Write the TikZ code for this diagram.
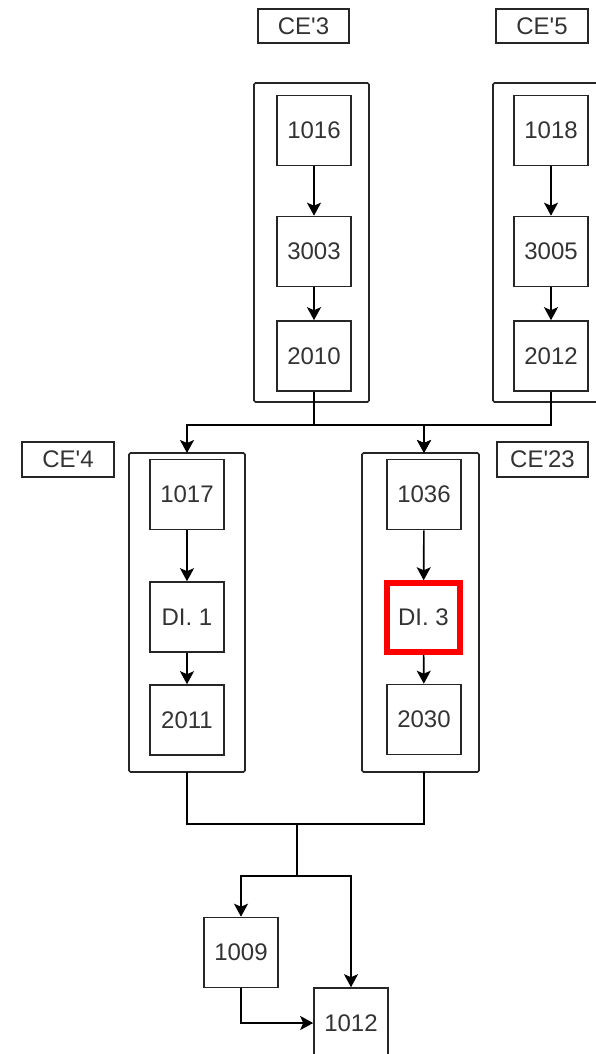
\documentclass[tikz,border=0pt]{standalone}
\usepackage{fontspec}
\setmainfont{Liberation Sans}
\usetikzlibrary{arrows.meta}
\definecolor{txt}{HTML}{333333}
\definecolor{hl}{HTML}{FF0000}
\tikzset{
  box/.style={draw=black!85, line width=1.6pt, minimum width=74pt, minimum height=70pt, inner sep=0pt, text=txt, font=\fontsize{24}{28}\selectfont},
  grp/.style={draw=black!85, line width=1.6pt, rounded corners=1.5pt},
  lbl/.style={draw=black!85, line width=1.6pt, minimum width=91pt, minimum height=34pt, inner sep=0pt, text=txt, font=\fontsize{24}{28}\selectfont},
  redbox/.style={box, draw=hl, line width=5.5pt, minimum width=73pt, minimum height=69pt},
  arr/.style={line width=1.6pt, draw=black, -{Stealth[length=13pt,width=14pt,inset=3pt]}},
  ln/.style={line width=1.6pt, draw=black}
}
\begin{document}
\begin{tikzpicture}[x=1pt,y=-1pt]
\useasboundingbox (0,0) rectangle (596,1054);
\clip (0,0) rectangle (596,1054);
% group frames
\draw[grp] (254,83) rectangle (369,402);
\draw[grp] (493,83) rectangle (608,402);
\draw[grp] (129,453) rectangle (245,772);
\draw[grp] (362,453) rectangle (479,772);
\coordinate (g4n) at (187,453);
\coordinate (g4s) at (187,772);
\coordinate (g23n) at (424,453);
\coordinate (g23s) at (424,772);
% labels
\node[lbl] (ce3) at (303.5,26) {CE\textquotesingle 3};
\node[lbl, minimum width=92pt] (ce5) at (542,26) {CE\textquotesingle 5};
\node[lbl, minimum width=92pt, minimum height=35pt] (ce4) at (68,459.5) {CE\textquotesingle 4};
\node[lbl, minimum width=91pt, minimum height=35pt] (ce23) at (542.5,459.5) {CE\textquotesingle 23};
% nodes
\node[box] (n1016) at (314,130.5) {1016};
\node[box] (n3003) at (314,251.5) {3003};
\node[box] (n2010) at (314,356) {2010};
\node[box] (n1018) at (551,130.5) {1018};
\node[box] (n3005) at (551,251.5) {3005};
\node[box] (n2012) at (551,356) {2012};
\node[box] (n1017) at (187,494.5) {1017};
\node[box] (ndi1) at (187,617) {DI. 1};
\node[box] (n2011) at (187,720) {2011};
\node[box] (n1036) at (424,494.5) {1036};
\node[redbox] (ndi3) at (423.5,617.5) {DI. 3};
\node[box] (n2030) at (424,719.5) {2030};
\node[box] (n1009) at (241,952.5) {1009};
\node[box] (n1012) at (351,1023) {1012};
% inner arrows
\draw[arr] (n1016) -- (n3003);
\draw[arr] (n3003) -- (n2010);
\draw[arr] (n1018) -- (n3005);
\draw[arr] (n3005) -- (n2012);
\draw[arr] (n1017) -- (ndi1);
\draw[arr] (ndi1) -- (n2011);
\draw[arr] (n1036) -- (ndi3);
\draw[arr] (ndi3) -- (n2030);
% top bus
\coordinate (bus) at (0,425);
\draw[arr] (n2010.south) -- (n2010.south |- bus) -| (g4n);
\draw[arr] (n2010.south |- bus) -| (g23n);
\draw[arr] (n2012.south) -- (n2012.south |- bus) -| (g23n);
% bottom bus
\coordinate (bus2) at (0,824);
\coordinate (m1) at (297,824);
\coordinate (m2) at (297,876);
\draw[ln] (g4s) -- (g4s |- bus2) -- (g23s |- bus2) -- (g23s);
\draw[arr] (m1) -- (m2) -| (n1009.north);
\draw[arr] (m2) -| (n1012.north);
\draw[arr] (n1009.south) |- (n1012.west);
\end{tikzpicture}
\end{document}
